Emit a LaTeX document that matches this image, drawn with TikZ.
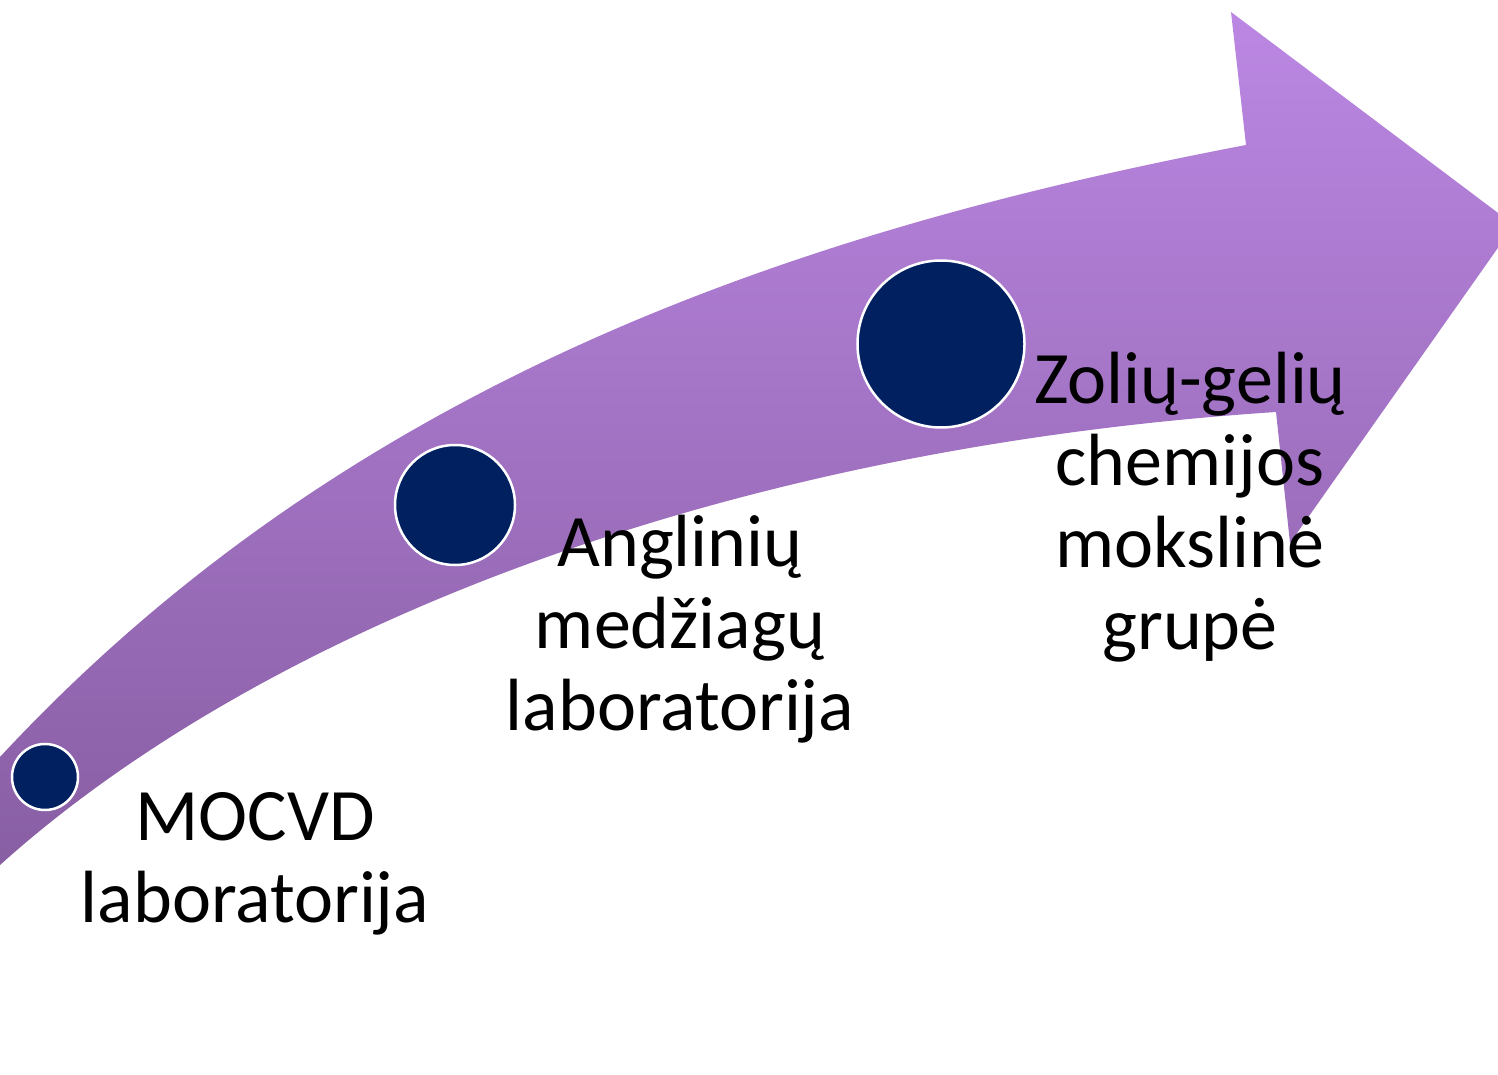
\documentclass[tikz,border=0pt]{standalone}
\usepackage{fontspec}
\setmainfont{Carlito}
\definecolor{arrowtop}{RGB}{187,135,227}
\definecolor{arrowbot}{RGB}{136,94,163}
\definecolor{navy}{RGB}{0,32,96}
\tikzset{
  dot/.style={circle,fill=navy,draw=white,line width=2.5pt,inner sep=0pt},
  lbl/.style={font=\fontsize{74}{82}\selectfont,align=center,anchor=base,inner sep=0pt,text=black}
}
\begin{document}
\begin{tikzpicture}[x=1pt,y=-1pt]
\useasboundingbox (0,0) rectangle (1498,1075);
\clip (0,0) rectangle (1498,1075);
\fill[white] (0,0) rectangle (1498,1075);
\shade[top color=arrowtop,bottom color=arrowbot]
  (0,757) .. controls (350,380) and (800,230) .. (1246,145)
  -- (1231,12) -- (1514,225) -- (1290,543) -- (1276,412)
  .. controls (700,450) and (250,640) .. (0,865) -- cycle;
\node[dot,minimum size=66pt] (c1) at (45,777) {};
\node[dot,minimum size=120pt] (c2) at (455,505) {};
\node[dot,minimum size=167pt] (c3) at (941,344) {};
\node[lbl] (t1) at (255,922) {MOCVD\\laboratorija};
\node[lbl] (t2) at (680,730) {Anglinių\\medžiagų\\laboratorija};
\node[lbl] (t3) at (1190,649) {Zolių-gelių\\chemijos\\mokslinė\\grupė};
\end{tikzpicture}
\end{document}
